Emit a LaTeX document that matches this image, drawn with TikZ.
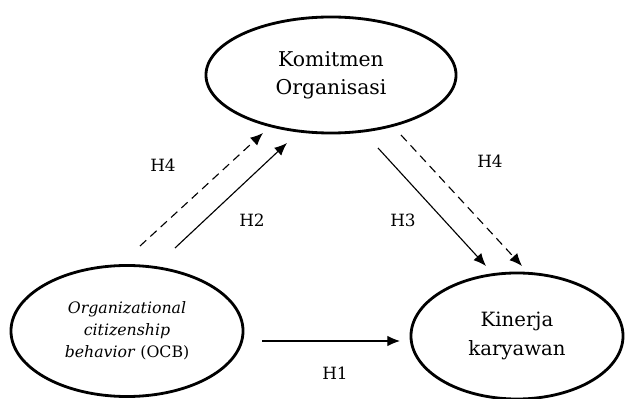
\documentclass[tikz,border=0pt]{standalone}
\usepackage{fontspec}
\setmainfont{DejaVu Serif}
\usetikzlibrary{arrows.meta, shapes.geometric, positioning}

\tikzset{
  var/.style={ellipse, draw, line width=2pt, inner sep=0pt},
  hyp/.style={-{Latex[length=9pt,width=7.5pt]}, line width=0.8pt},
  hypdash/.style={hyp, dashed, dash pattern=on 6pt off 4pt},
  lbl/.style={font=\fontsize{12}{14}\selectfont}
}

\begin{document}
\begin{tikzpicture}[x=0.025cm, y=-0.025cm]
\useasboundingbox (0,0) rectangle (625,399);

% variabel
\node[var, minimum width=6.25cm, minimum height=2.9cm, align=center,
      font=\fontsize{14.5}{20}\selectfont] (km) at (331,75) {Komitmen\\Organisasi};
\node[var, minimum width=5.8cm, minimum height=3.275cm, align=center,
      font=\fontsize{11.2}{15.8}\selectfont] (ocb) at (127,331)
  {\textit{Organizational}\\\textit{citizenship}\\\textit{behavior} (OCB)};
\node[var, minimum width=5.3cm, minimum height=3.15cm, align=center,
      font=\fontsize{14}{20}\selectfont] (kk) at (517,336) {Kinerja\\karyawan};

% titik ujung panah
\coordinate (h1a) at (262,341);  \coordinate (h1b) at (400,341);
\coordinate (h2a) at (175,248);  \coordinate (h2b) at (287,143);
\coordinate (h4a) at (140,246);  \coordinate (h4b) at (263,133);
\coordinate (h3a) at (378,148);  \coordinate (h3b) at (486,266);
\coordinate (h5a) at (401,135);  \coordinate (h5b) at (522,266);

% panah hipotesis
\draw[hyp] (h1a) -- (h1b);
\draw[hyp] (h2a) -- (h2b);
\draw[hypdash] (h4a) -- (h4b);
\draw[hyp] (h3a) -- (h3b);
\draw[hypdash] (h5a) -- (h5b);

% label
\node[lbl] (l1) at (335,373) {H1};
\node[lbl] (l2) at (252,220) {H2};
\node[lbl] (l3) at (403,220) {H3};
\node[lbl] (l4) at (163,165) {H4};
\node[lbl] (l5) at (490,161) {H4};
\end{tikzpicture}
\end{document}
